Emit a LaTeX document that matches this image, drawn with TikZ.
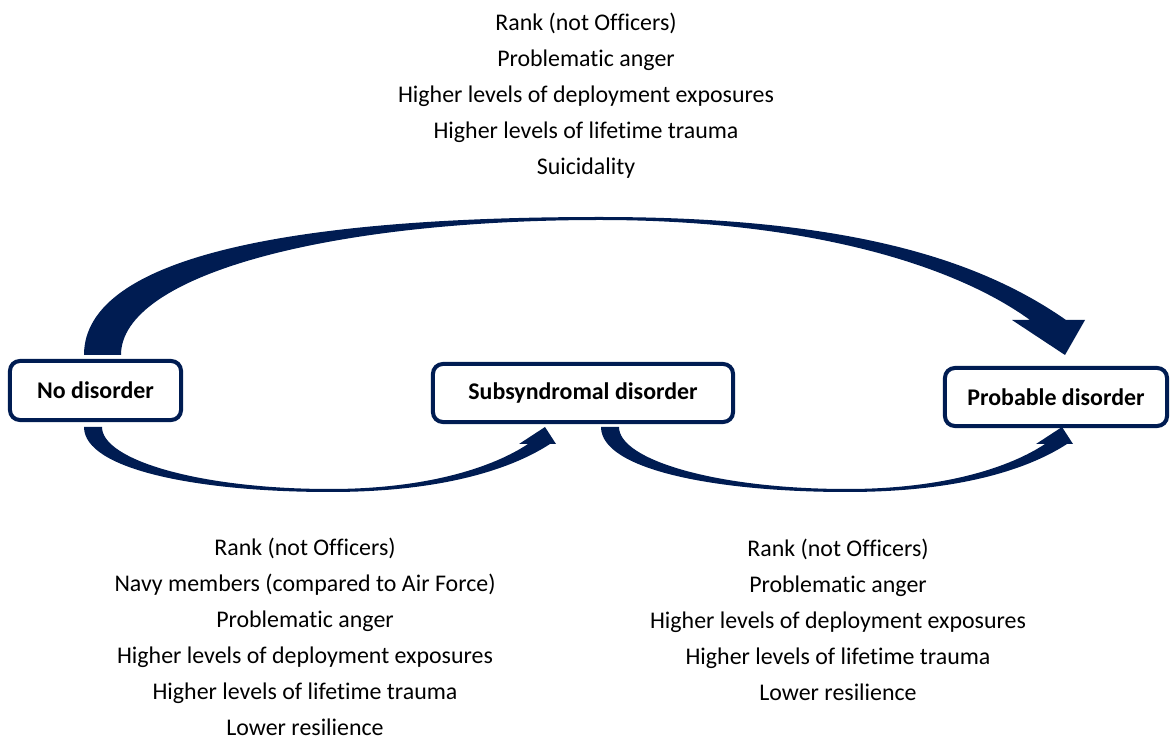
\documentclass[tikz,border=0pt]{standalone}
\usepackage{fontspec}
\setmainfont{Carlito}[Ligatures=NoCommon]
\definecolor{navy}{RGB}{0,28,82}
\begin{document}
\begin{tikzpicture}[x=0.025cm,y=-0.025cm,
  statebox/.style={draw=navy, line width=2.85pt, rounded corners=7pt, fill=white,
    font=\fontsize{17}{20}\selectfont\bfseries, inner sep=0pt, minimum height=1.46cm},
  factors/.style={align=center, font=\fontsize{17}{25.6}\selectfont, inner sep=0pt},
  bigarrow/.style={fill=navy},
  lowarrow/.pic={
    \fill[bigarrow] (84,427) .. controls (84,470) and (200,492) .. (330,492)
      .. controls (440,492) and (510,470) .. (550,444)
      -- (556,444) -- (545,427) -- (519,444) -- (528,444)
      .. controls (495,466) and (430,489) .. (330,489)
      .. controls (200,489) and (102,460) .. (102,427) -- cycle;
  }]
\useasboundingbox (0,0) rectangle (1171,740);

% top curved arrow: No disorder -> Probable disorder
\fill[bigarrow] (84,355) .. controls (84,255) and (300,217) .. (600,217)
  .. controls (850,217) and (980,260) .. (1066,320)
  -- (1085,320) -- (1065,355) -- (1012,320) -- (1030,320)
  .. controls (950,262) and (800,220) .. (600,220)
  .. controls (330,220) and (121,275) .. (121,355) -- cycle;

% lower curved arrows: No disorder -> Subsyndromal, Subsyndromal -> Probable
\pic at (0,0) {lowarrow};
\pic at (517,0) {lowarrow};

% state boxes
\node[statebox, minimum width=4.275cm, minimum height=1.475cm] (none) at (95.5,390.5) {No disorder};
\node[statebox, minimum width=7.5cm, minimum height=1.45cm] (sub) at (583,393) {Subsyndromal disorder};
\node[statebox, minimum width=5.55cm, minimum height=1.45cm] (prob) at (1056,397) {Probable disorder};

% factor lists
\node[factors] (topf) at (586,96) {Rank (not Officers)\\Problematic anger\\Higher levels of deployment exposures\\Higher levels of lifetime trauma\\Suicidality};
\node[factors] (leftf) at (305,637) {Rank (not Officers)\\Navy members (compared to Air Force)\\Problematic anger\\Higher levels of deployment exposures\\Higher levels of lifetime trauma\\Lower resilience};
\node[factors] (rightf) at (838,620) {Rank (not Officers)\\Problematic anger\\Higher levels of deployment exposures\\Higher levels of lifetime trauma\\Lower resilience};
\end{tikzpicture}
\end{document}
